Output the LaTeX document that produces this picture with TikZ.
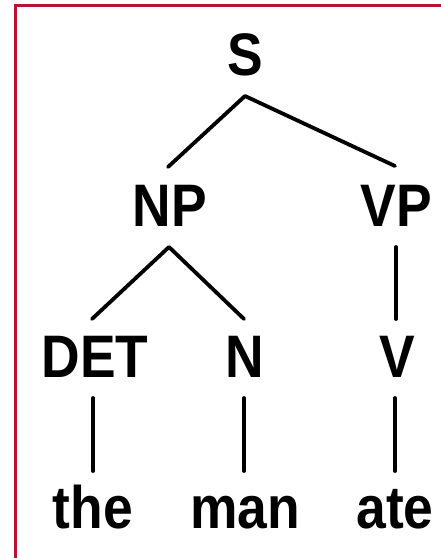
\documentclass[tikz,border=0pt]{standalone}
\usepackage{fontspec}
\setmainfont{Liberation Sans}[FakeStretch=0.89]
\usetikzlibrary{calc}
\definecolor{frame}{RGB}{185,18,50}
\tikzset{
  lab/.style={font=\fontsize{60}{60}\selectfont\bfseries, anchor=base, inner sep=0pt},
  edge/.style={line width=3.8pt, line cap=round, line join=round},
}
\begin{document}
\begin{tikzpicture}[x=1pt,y=-1pt]
\useasboundingbox (0,0) rectangle (441,558);
\fill[white] (0,0) rectangle (441,558);
\draw[frame, line width=2.2pt] (441,5.5) -- (15.5,5.5) -- (15.5,558);
\node[lab] (S) at (245,75) {S};
\node[lab] (NP) at (170,226) {NP};
\node[lab] (VP) at (396,226) {VP};
\node[lab] (DET) at (95,377) {DET};
\node[lab] (N) at (245,377) {N};
\node[lab] (V) at (397,377) {V};
\node[lab] (the) at (93,528) {the};
\node[lab] (man) at (245,528) {man};
\node[lab] (ate) at (395,528) {ate};
\draw[edge] ($(NP.base)+(-2,-59)$) -- ($(S.base)+(0,21)$) -- ($(VP.base)+(-1,-60)$);
\draw[edge] ($(DET.base)+(-3,-58)$) -- ($(NP.base)+(-1,21)$) -- ($(N.base)+(-1,-58)$);
\draw[edge] ($(VP.base)+(0,21)$) -- ($(V.base)+(-1,-58)$);
\draw[edge] ($(DET.base)+(-2,21)$) -- ($(the.base)+(0,-57)$);
\draw[edge] ($(N.base)+(-1,21)$) -- ($(man.base)+(-1,-57)$);
\draw[edge] ($(V.base)+(-2,21)$) -- ($(ate.base)+(0,-57)$);
\end{tikzpicture}
\end{document}
